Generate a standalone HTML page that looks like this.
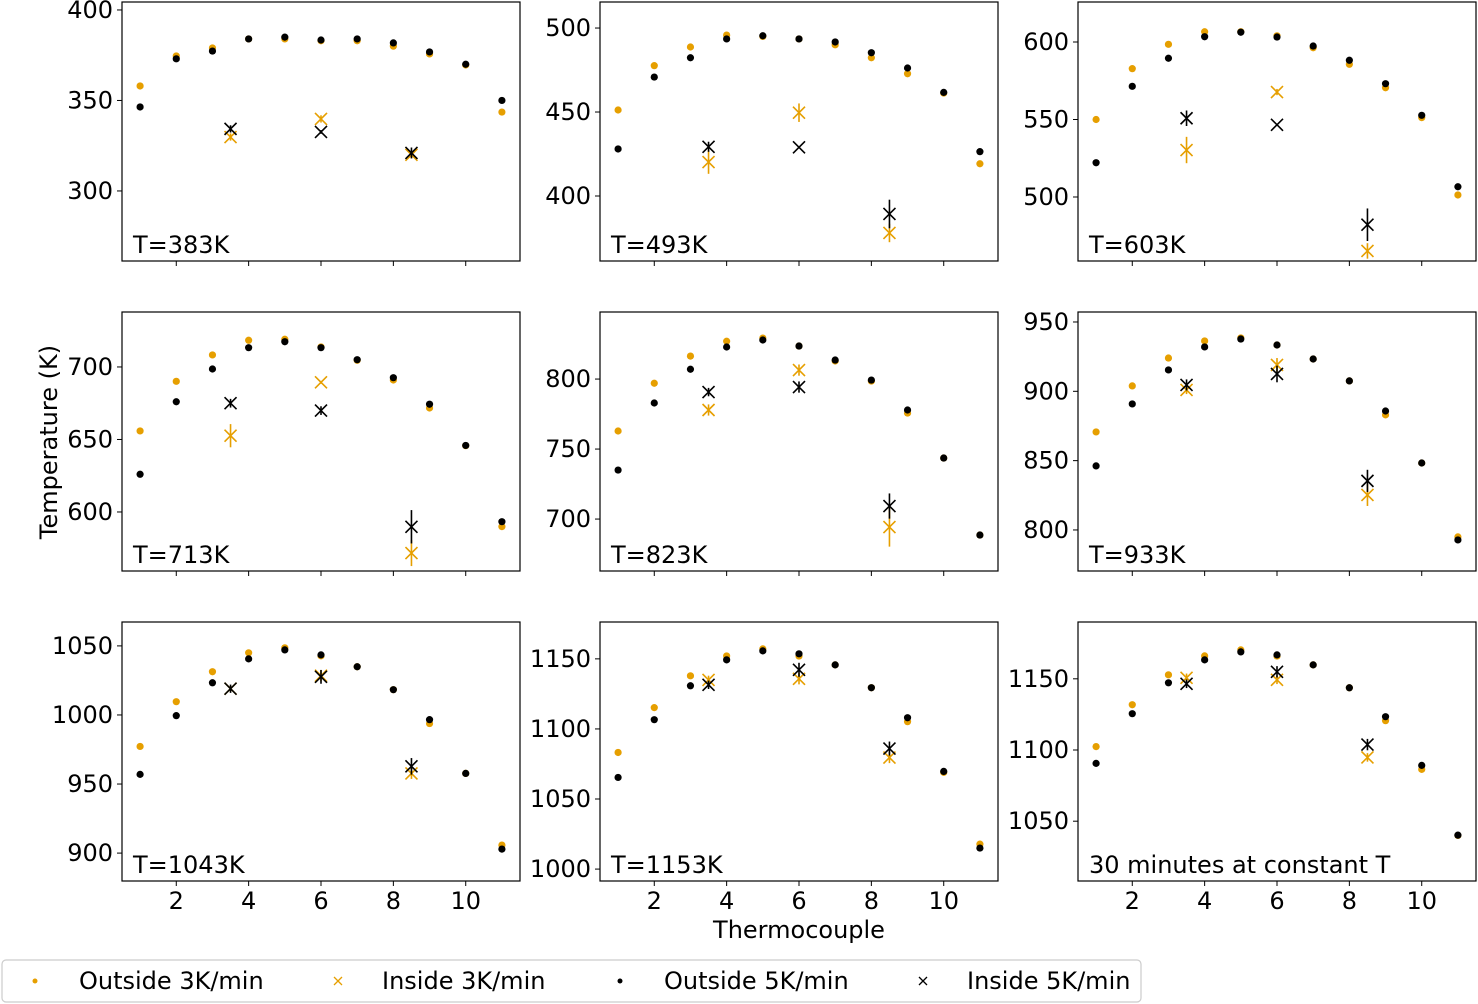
<!DOCTYPE html>
<html><head><meta charset="utf-8">
<style>
html,body{margin:0;padding:0;background:#fff;}
svg{display:block;font-family:"DejaVu Sans","Liberation Sans",sans-serif;}
</style></head>
<body>
<svg id="fig" width="1478" height="1004" viewBox="0 0 1478 1004" xmlns="http://www.w3.org/2000/svg"></svg>
<script>
const thermocouples = [1,2,3,4,5,6,7,8,9,10,11];
const insideX = [3.5,6,8.5];
const panelLabels = ["T=383K","T=493K","T=603K","T=713K","T=823K","T=933K","T=1043K","T=1153K","30 minutes at constant T"];
const outside3 = [
 [358,374.6,379,384,384,383,383,380,375.7,369.6,343.6],
 [451.2,477.6,488.7,495.8,495,493.5,490,482.3,472.8,461.3,419.2],
 [550,582.8,598.5,606.6,606.6,604,596.3,585.6,570.5,551.2,501.3],
 [655.9,690.1,708.3,718.4,719.1,713.8,704.6,691,671.7,645.7,589.9],
 [762.9,797,816.4,827,829.3,823.6,812.9,798.6,775.7,743.6,688.6],
 [870.7,903.9,924,936.3,938.5,933.4,923.3,907.5,883,848.3,795],
 [977.2,1009.6,1031.3,1045,1048.6,1042.8,1034.9,1018.3,993.8,957.7,905.8],
 [1083.2,1115.2,1137.9,1152.1,1157.1,1152,1145.7,1129.4,1105.2,1069,1017.8],
 [1102.4,1131.8,1152.8,1166.1,1170.3,1166,1159.8,1143.7,1120.6,1086.4,1040]
];
const outside5 = [
 [346.4,373,377.3,384,385,383.4,384,381.8,376.8,370,350],
 [428,470.8,482.3,493.5,495.4,493.5,491.7,485.3,476.2,461.7,426.4],
 [522.1,571.4,589.5,603.4,606.3,603.2,597.4,588.2,573.1,552.7,506.6],
 [626,676,698.6,713.3,717.4,713.3,705,692.6,674.3,645.9,593.3],
 [735,782.9,807,822.9,827.9,823.6,813.6,799.3,777.9,743.6,688.6],
 [846.2,890.9,915.4,932,937.7,933.4,923.3,907.5,885.8,848.3,792.8],
 [957,999.5,1023.3,1040.6,1047.1,1043.5,1034.9,1018.3,996.6,957.7,902.9],
 [1065.4,1106.6,1130.8,1149.3,1155.7,1153.6,1145.7,1129.4,1108,1069.7,1015],
 [1090.6,1125.5,1147.2,1163.3,1168.9,1166.8,1159.8,1143.7,1123.4,1089.2,1040.2]
];
const inside3 = [
 [329.8,339.8,320],[420.2,449.6,378],[530.3,567.7,465.2],[652.6,689.4,571.7],[777.9,806.4,694.3],
 [901,919,825.3],[1019,1028.4,957.7],[1135,1135.8,1079.6],[1150.7,1149.3,1094.8]
];
const inside3Err = [
 [2,2,2],[7,5.5,5.5],[8.5,2,5],[8,1,9],[4,4,14],[3,5,8],[2,4,4],[3,4,4],[3,3,3]
];
const inside5 = [
 [334.3,332.6,321],[429.3,429,389.3],[550.8,546.6,482.1],[675,669.9,589.8],[790.7,794.3,709.3],
 [904.6,912.5,835.4],[1019,1027.6,962.8],[1131.5,1142.2,1086],[1146.5,1154.9,1103.8]
];
const inside5Err = [
 [2,1,3],[3,0,8.5],[5,0,10.5],[3,3,11.5],[3,4,9],[4,6,8],[3,5,6],[3,5,5],[3,4,4]
];
const yLims = [[261.3,404.4],[361.3,515.5],[458.7,625.8],[559.3,737.9],[662.9,847.9],[770.4,957.2],[879.8,1067.3],[991.5,1176.3],[1008,1189.9]];
const yTicks = [[300,350,400],[400,450,500],[500,550,600],[600,650,700],[700,750,800],[800,850,900,950],[900,950,1000,1050],[1000,1050,1100,1150],[1050,1100,1150]];
const xTicks = [2,4,6,8,10];

const NS="http://www.w3.org/2000/svg";
const svg=document.getElementById('fig');
const ORANGE="#E69F00";
function mk(tag,attrs,parent){const e=document.createElementNS(NS,tag);for(const k in attrs)e.setAttribute(k,attrs[k]);(parent||svg).appendChild(e);return e;}

const colX=[122,600,1078], rowY=[2,312,622], W=398, H=259;
const clipDefs=mk('defs',{});
for(let p=0;p<9;p++){
  const c=p%3,r=Math.floor(p/3);
  const x0=colX[c],y0=rowY[r];
  const [ymin,ymax]=yLims[p];
  const sx=v=>x0+(v-0.5)/11*W;
  const sy=v=>y0+H-(v-ymin)/(ymax-ymin)*H;
  const g=mk('g',{});
  
  
  const cp=mk('clipPath',{id:'cp'+p},clipDefs);
  mk('rect',{x:x0,y:y0,width:W,height:H},cp);
  yTicks[p].forEach(t=>{
    const y=sy(t);
    const tl=mk('line',{x1:x0-5,x2:x0,y1:y,y2:y,stroke:'#000','stroke-width':1},g);
    
    
    const tx=mk('text',{x:x0-9,y:y+8,'text-anchor':'end','font-size':24},g);
    tx.textContent=t;
    
    
  });
  xTicks.forEach(t=>{
    const x=sx(t);
    const tl=mk('line',{x1:x,x2:x,y1:y0+H,y2:y0+H+5,stroke:'#000','stroke-width':1},g);
    
    
    if(r===2){
      const tx=mk('text',{x:x,y:y0+H+28,'text-anchor':'middle','font-size':24},g);
      tx.textContent=t;
      
      
    }
  });
  const dg=mk('g',{'clip-path':'url(#cp'+p+')'},g);
  thermocouples.forEach((t,i)=>{
    const d=mk('circle',{cx:sx(t),cy:sy(outside3[p][i]),r:3.6,fill:ORANGE},dg);
    
    
  });
  insideX.forEach((t,i)=>{
    const x=sx(t),y=sy(inside3[p][i]),e=inside3Err[p][i];
    const l=mk('line',{x1:x,x2:x,y1:sy(inside3[p][i]+e),y2:sy(inside3[p][i]-e),stroke:ORANGE,'stroke-width':1.6},dg);
    
    
    const m=mk('path',{d:`M${x-6},${y-6}L${x+6},${y+6}M${x-6},${y+6}L${x+6},${y-6}`,stroke:ORANGE,'stroke-width':1.6,fill:'none'},dg);
    
    
  });
  thermocouples.forEach((t,i)=>{
    const d=mk('circle',{cx:sx(t),cy:sy(outside5[p][i]),r:3.6,fill:'#000'},dg);
    
    
  });
  insideX.forEach((t,i)=>{
    const x=sx(t),y=sy(inside5[p][i]),e=inside5Err[p][i];
    const l=mk('line',{x1:x,x2:x,y1:sy(inside5[p][i]+e),y2:sy(inside5[p][i]-e),stroke:'#000','stroke-width':1.6},dg);
    
    
    const m=mk('path',{d:`M${x-6},${y-6}L${x+6},${y+6}M${x-6},${y+6}L${x+6},${y-6}`,stroke:'#000','stroke-width':1.6,fill:'none'},dg);
    
    
  });
  const fr=mk('rect',{x:x0,y:y0,width:W,height:H,fill:'none',stroke:'#000','stroke-width':1.2},g);
  
  
  const lb=mk('text',{x:x0+11,y:y0+H-8,'font-size':24},g);
  lb.textContent=panelLabels[p];
  
  
}
</script>
<script>
(function(){
const NS="http://www.w3.org/2000/svg";
const svg=document.getElementById('fig');
function mk(tag,attrs,parent){const e=document.createElementNS(NS,tag);for(const k in attrs)e.setAttribute(k,attrs[k]);(parent||svg).appendChild(e);return e;}
const yl=mk('text',{x:0,y:0,'font-size':24,'text-anchor':'middle',transform:'translate(57,442) rotate(-90)'});
yl.textContent='Temperature (K)';


const xl=mk('text',{x:799,y:938,'font-size':24,'text-anchor':'middle'});
xl.textContent='Thermocouple';


const lg=mk('g',{});


mk('rect',{x:2,y:960,width:1139,height:42,rx:4,fill:'#fff',stroke:'#ccc','stroke-width':1.2},lg);
const entries=[
 {x:35,tx:79,c:'#E69F00',m:'dot',t:'Outside 3K/min',n:'legend-outside-3k'},
 {x:338,tx:382,c:'#E69F00',m:'x',t:'Inside 3K/min',n:'legend-inside-3k'},
 {x:620,tx:664,c:'#000',m:'dot',t:'Outside 5K/min',n:'legend-outside-5k'},
 {x:923,tx:967,c:'#000',m:'x',t:'Inside 5K/min',n:'legend-inside-5k'}
];
entries.forEach(en=>{
  const g=mk('g',{},lg);
  
  
  const y=981;
  if(en.m==='dot') mk('circle',{cx:en.x,cy:y,r:2.5,fill:en.c},g);
  else mk('path',{d:`M${en.x-4},${y-4}L${en.x+4},${y+4}M${en.x-4},${y+4}L${en.x+4},${y-4}`,stroke:en.c,'stroke-width':1.3},g);
  const t=mk('text',{x:en.tx,y:989,'font-size':24},g);
  t.textContent=en.t;
});
})();
</script>
</body></html>
